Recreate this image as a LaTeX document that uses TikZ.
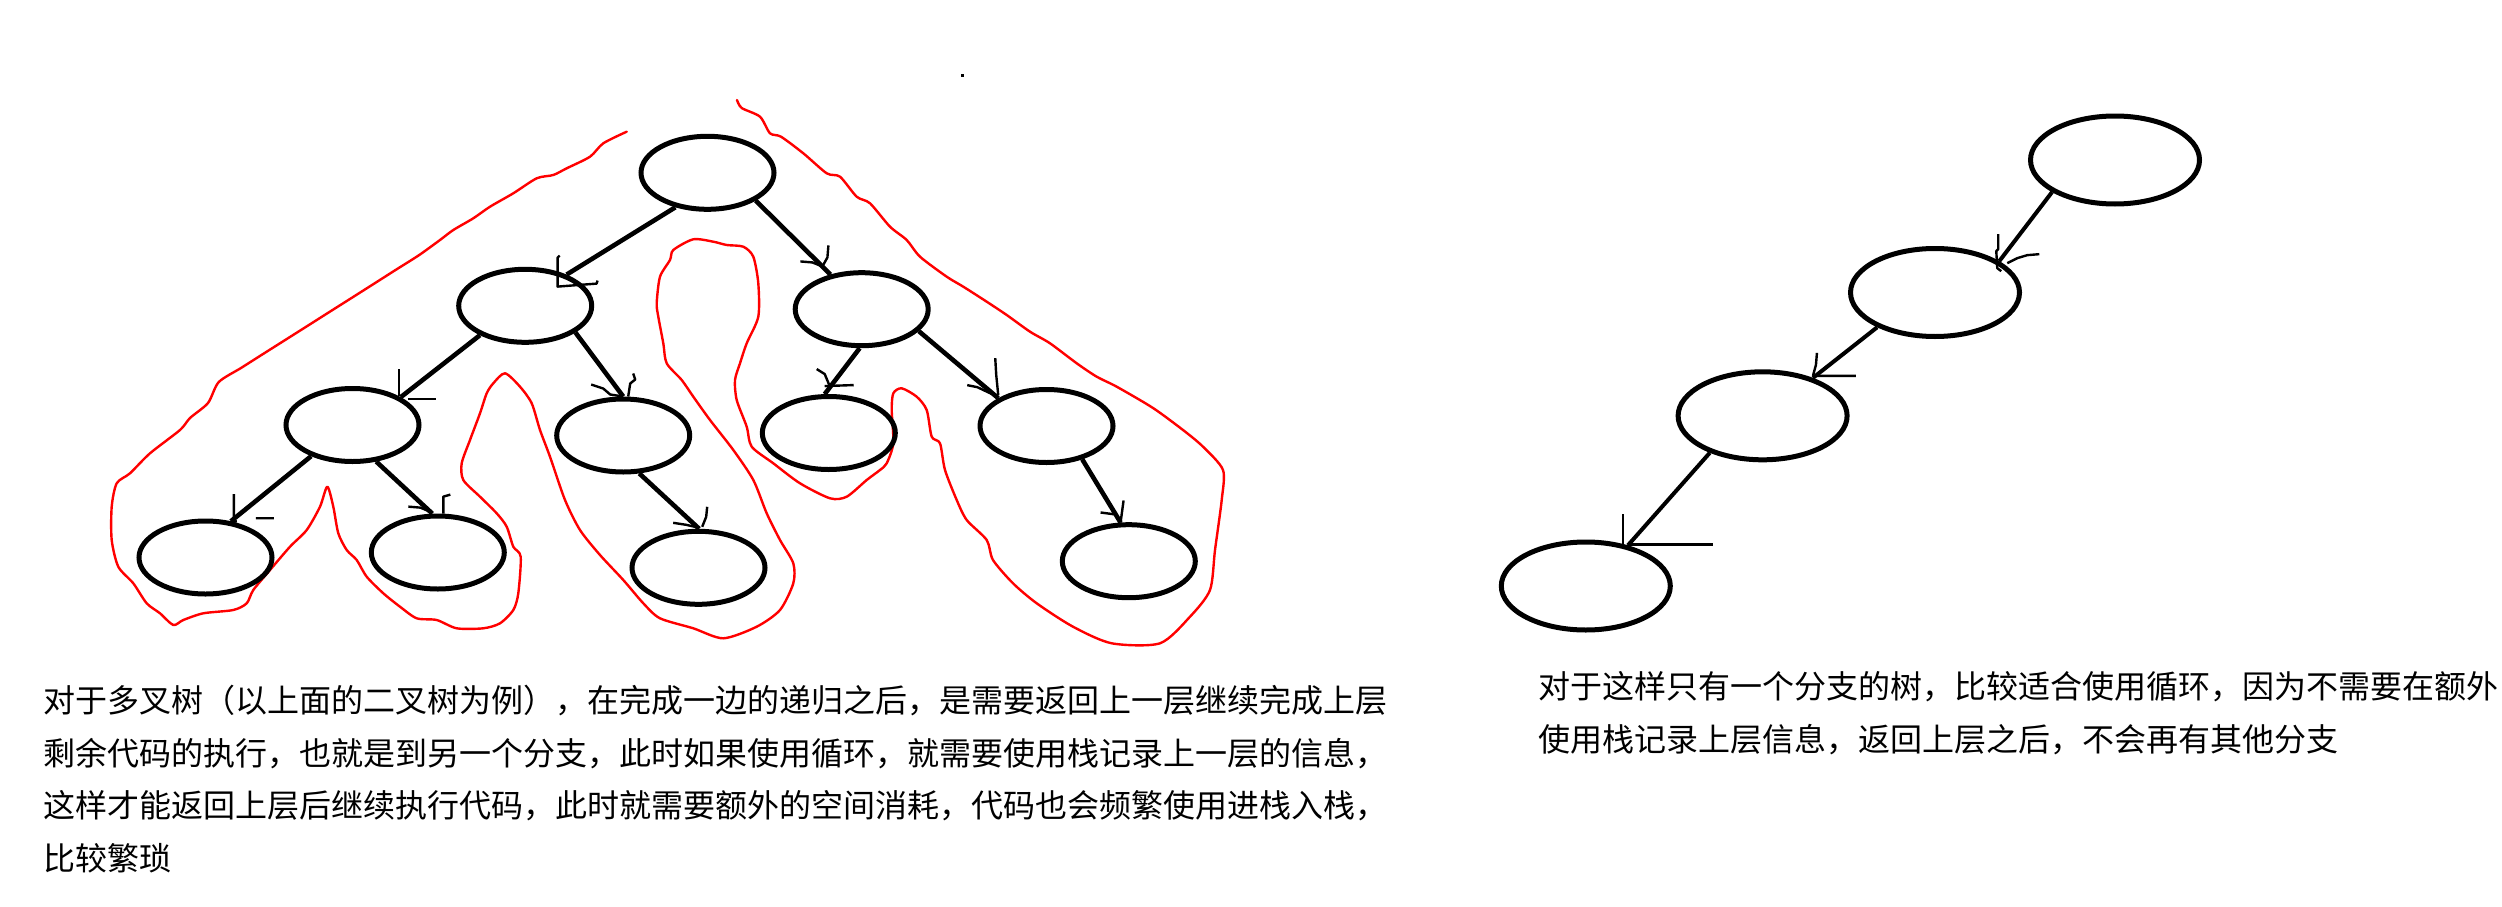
\documentclass[tikz,border=0pt]{standalone}
\usepackage{fontspec}
\newfontfamily\cjk{Noto Sans CJK SC}
\usetikzlibrary{shapes.geometric}
\begin{document}
\begin{tikzpicture}[x=1pt,y=-1pt,
  ell/.style={draw, ellipse, line width=5pt, minimum width=133pt, minimum height=73pt, inner sep=0pt},
  rell/.style={ell, minimum width=169pt, minimum height=88pt},
  conn/.style={line width=4.6pt},
  rconn/.style={line width=4pt},
  barb/.style={line width=2.4pt, line join=round},
  redline/.style={draw=red, line width=2.4pt, line join=round, line cap=round},
  txt/.style={anchor=west, inner sep=0pt, font=\cjk\fontsize{32pt}{52pt}\selectfont}
]
\fill[white] (0,0) rectangle (2502,907);
\useasboundingbox (0,0) rectangle (2502,907);

% small dot
\fill (961,74) rectangle (964,77);

% red outline
\draw[redline] plot[smooth, tension=0.45] coordinates {
(626.7,131.7) (603.3,143.3) (590,156.7) (566.7,168.3) (553.3,175) (536.7,178.3)
(513.3,193.3) (490,206.7) (473.3,218.3) (453.3,230) (440,240) (419.1,255.1)
(396.8,269.2) (374.5,283.4) (352.3,297.5) (330.0,311.6) (307.8,325.7) (285.5,339.8)
(263.2,353.9) (241.0,368.0) (218.7,382.1) (208,403) (190,418) (180,430)
(150,453.3) (130,473.3) (116.7,483.3) (111.7,506.7) (111.7,540) (118.3,566.7)
(133.3,583.3) (146.7,603.3) (160,613.3) (173.3,625) (183.3,620) (203.3,613.3)
(233.3,610) (246.7,603.3) (253.3,590) (270,570) (290,546.7) (306.7,530)
(320,506.7) (327.3,486.7) (333.3,506.7) (338.3,533.3) (346.7,550) (356.7,560)
(366.7,576.7) (383.3,593.3) (400,606.7) (416.7,618.3) (436.7,620) (456.7,628.3)
(483.3,628.3) (500,623.3) (513.3,610) (518.3,593.3) (520.7,556.7) (513.3,546.7)
(506.7,526.7) (496.7,513.3) (480,496.7) (463.3,480) (461.7,463.3) (470,440)
(480,413.3) (486.7,393.3) (493.3,383.3) (505,373.3) (520,386.7) (531.7,403.3)
(540,430) (550,456.7) (565,500) (580,530) (600,555) (623.3,580)
(643.3,603.3) (660,618.3) (693.3,628.3) (723.3,638.3) (756.7,626.7) (780,610)
(793.3,583.3) (793.3,563.3) (780,540) (766.7,513.3) (753.3,480) (733.3,450)
(710,420) (693.3,396.7) (681.7,380) (666.7,363.3) (663.3,343.3) (658.3,316.7)
(656.7,303.3) (660,276.7) (670,260) (673.3,250) (693.3,239.3) (713.3,241.7)
(726.7,245) (743.3,246.7) (753.3,256.7) (758.3,283.3) (758.3,316.7) (746.7,343.3)
(740,363.3) (735,380) (736.7,400) (746.7,426.7) (751.7,446.7) (773.3,463.3)
(800,483.3) (830,498.3) (846.7,496.7) (866.7,480) (880,470) (886.7,463.3)
(893.3,443.3) (891.7,410) (893.3,393.3) (901.7,388.3) (916.7,396.7) (926.7,410)
(931.7,436.7) (940,443.3) (945,470) (956.7,500) (966.7,520) (986.7,540)
(993,560) (1013,583.3) (1036.7,603.3) (1073,626.7) (1111.7,643.3) (1160,643.3)
(1190,616.7) (1210,590) (1215,550) (1221.7,500) (1223,470) (1203,446.7)
(1183,430) (1153,408) (1116.7,386.7) (1096.7,376.7) (1076.7,363.3) (1050,343.3)
(1030,331.7) (1006.7,315) (986.7,301.7) (963.3,286.7) (946.7,276.7) (920,256.7)
(906.7,240) (890,226.7) (870,203.3) (856.7,196.7) (840,176.7) (826.7,173.3)
(803.3,153.3) (781,136.7) (770,133.3) (760,116.7) (741.7,108) (737,100)};

% left tree nodes
\node[ell] (root) at (707.5,172.8) {};
\node[ell] (l1l) at (525.2,305.8) {};
\node[ell] (l1r) at (861.7,309.2) {};
\node[ell] (l2a) at (352.5,425) {};
\node[ell] (l2b) at (623.2,435.5) {};
\node[ell] (l2c) at (828.8,433) {};
\node[ell] (l2d) at (1046.5,426) {};
\node[ell] (l3a) at (205.5,557.5) {};
\node[ell] (l3b) at (437.8,552.5) {};
\node[ell] (l3c) at (698.5,567.8) {};
\node[ell] (l3d) at (1128.8,561.2) {};

% left tree connectors with hand-drawn arrow barbs
\draw[conn] (root.227) -- (l1l.37);
\draw[barb] (l1l.37) +(-7,-19) -- +(-9,-17) -- +(-9,12) -- +(30,9) -- +(31,6);
\draw[conn] (root.330) -- (l1r.132);
\draw[barb] (l1r.132) +(-2,-29) -- +(-3,-17) -- +(-8,-8) -- +(0,0) +(-30,-13) -- +(-18,-12) -- +(-8,-8);
\draw[conn] (l1l.213) -- (l2a.30);
\draw[barb] (l2a.30) +(-2,-28) -- +(-2,-1) +(7,2) -- +(35,2);
\draw[conn] (l1l.332) -- (l2b.90);
\draw[barb] (l2b.90) +(10,-23) -- +(12,-17) -- +(7,-13) -- +(5,0) +(-32,-12) -- +(-20,-8) -- +(-13,-2) -- +(0,0);
\draw[conn] (l1r.267) -- (l2c.96);
\draw[barb] (l2c.96) +(-8,-25) -- +(0,-20) -- +(5,-8) -- +(0,0) +(0,-8) -- +(29,-9);
\draw[conn] (l1r.339) -- (l2d.150);
\draw[barb] (l2d.150) +(-3,-40) -- +(-2,-23) -- +(0,-3) +(-31,-13) -- +(-21,-11) -- +(-4,-3);
\draw[conn] (l2a.217) -- (l3a.55);
\draw[barb] (l3a.55) +(3,-27) -- +(3,0) +(-5,2) -- +(6,0) +(25,-3) -- +(43,-3);
\draw[conn] (l2a.303) -- (l3b.98);
\draw[barb] (l3b.98) +(11,0) -- +(11,-17) -- +(18,-19) +(-24,-7) -- +(-12,-6) -- +(0,-1);
\draw[conn] (l2b.293) -- (l3c.89);
\draw[barb] (l3c.89) +(8,-22) -- +(7,-12) -- +(3,-2) +(-26,-6) -- +(-13,-4) -- +(0,-1);
\draw[conn] (l2d.317) -- (l3d.102);
\draw[barb] (l3d.102) +(3,-22) -- +(0,0) +(-20,-10) -- +(-5,-8) -- +(0,-2);

% right tree nodes
\node[rell] (r1) at (2115,160) {};
\node[rell] (r2) at (1935,292.5) {};
\node[rell] (r3) at (1762.6,415.8) {};
\node[rell] (r4) at (1585.8,586) {};

% right tree connectors
\draw[rconn] (r1.207) -- (r2.26);
\draw[barb] (r2.26) +(-1,-27) -- +(-1,-12) -- +(-3,-10) -- +(-2,7) -- +(2,10) +(8,2) -- +(18,-3) -- +(28,-6) -- +(40,-7);
\draw[rconn] (r2.211) -- (r3.37);
\draw[barb] (r3.37) +(4,-25) -- +(3,-13) -- +(0,-2) +(3,-2) -- +(43,-2);
\draw[rconn] (r3.215) -- (r4.44);
\draw[barb] (r4.44) +(-5,-31) -- +(-5,0) +(0,-1) -- +(85,-1);

% texts
\node[txt] (t1) at (43,701) {对于多叉树（以上面的二叉树为例），在完成一边的递归之后，是需要返回上一层继续完成上层};
\node[txt] (t2) at (43,754) {剩余代码的执行，也就是到另一个分支，此时如果使用循环，就需要使用栈记录上一层的信息，};
\node[txt] (t3) at (43,806) {这样才能返回上层后继续执行代码，此时就需要额外的空间消耗，代码也会频繁使用进栈入栈，};
\node[txt] (t4) at (43,858) {比较繁琐};
\node[txt] (t5) at (1538,687) {对于这样只有一个分支的树，比较适合使用循环，因为不需要在额外};
\node[txt] (t6) at (1538,740) {使用栈记录上层信息，返回上层之后，不会再有其他分支};
\end{tikzpicture}
\end{document}
